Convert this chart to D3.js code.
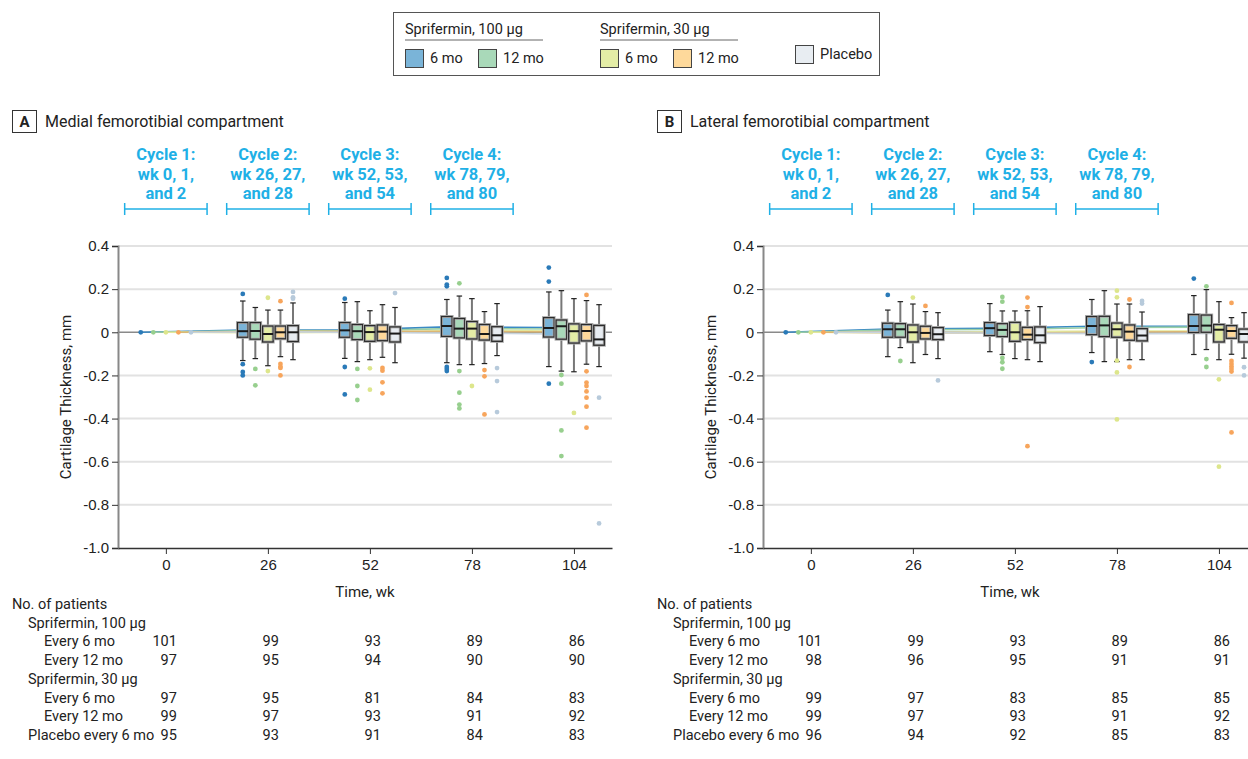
<!DOCTYPE html>
<html>
<head>
<meta charset="utf-8">
<script src="https://cdn.jsdelivr.net/npm/d3@7"></script>
<style>
  body { margin: 0; background: #fff; }
  text { font-family: Roboto, "Noto Sans", sans-serif; fill: #222; }
</style>
</head>
<body>
<div id="chart"></div>
<script>
const weeks = [0, 26, 52, 78, 104];
const boxWeeks = [26, 52, 78, 104];
const groupNames = ["100 µg 6 mo", "100 µg 12 mo", "30 µg 6 mo", "30 µg 12 mo", "Placebo"];
const boxFill = ["#7ab4d8", "#a9d9b9", "#e4eda6", "#fed99b", "#e8edf2"];
const dotColor = ["#2a7ab8", "#97cf8e", "#dde68c", "#f7a55c", "#b7cadb"];
const lineColor = ["#3a8ac4", "#9bd0a6", "#e3e79c", "#dcb774", "#c7d3dd"];
const yTicks = [0.4, 0.2, 0, -0.2, -0.4, -0.6, -0.8, -1.0];

const cycleWeeks = [0, 26, 52, 78];
const cycleLabels = [
  ["Cycle 1:", "wk 0, 1,", "and 2"],
  ["Cycle 2:", "wk 26, 27,", "and 28"],
  ["Cycle 3:", "wk 52, 53,", "and 54"],
  ["Cycle 4:", "wk 78, 79,", "and 80"]
];

// box stats per group, one row per week 26..104: [low whisker, q1, median, q3, high whisker]
const medialBoxes = [
  [[-0.131, -0.023, 0.005, 0.045, 0.145], [-0.121, -0.023, 0.009, 0.045, 0.138], [-0.141, -0.019, 0.029, 0.073, 0.152], [-0.159, -0.022, 0.020, 0.068, 0.187]],
  [[-0.122, -0.032, 0.006, 0.045, 0.115], [-0.136, -0.034, 0.005, 0.036, 0.142], [-0.150, -0.026, 0.017, 0.064, 0.168], [-0.180, -0.032, 0.028, 0.057, 0.193]],
  [[-0.155, -0.045, -0.008, 0.029, 0.103], [-0.127, -0.042, 0.001, 0.031, 0.100], [-0.150, -0.031, 0.017, 0.050, 0.156], [-0.183, -0.050, 0.005, 0.039, 0.156]],
  [[-0.113, -0.030, 0.000, 0.029, 0.103], [-0.116, -0.039, 0.003, 0.034, 0.128], [-0.145, -0.036, -0.008, 0.036, 0.096], [-0.148, -0.040, 0.006, 0.036, 0.147]],
  [[-0.127, -0.043, 0.000, 0.031, 0.136], [-0.141, -0.045, -0.006, 0.025, 0.115], [-0.108, -0.042, -0.014, 0.026, 0.133], [-0.159, -0.060, -0.033, 0.032, 0.128]]
];
const lateralBoxes = [
  [[-0.113, -0.023, 0.014, 0.042, 0.103], [-0.090, -0.015, 0.019, 0.045, 0.133], [-0.094, -0.011, 0.029, 0.073, 0.152], [-0.103, -0.001, 0.029, 0.082, 0.170]],
  [[-0.071, -0.023, 0.014, 0.040, 0.142], [-0.103, -0.020, 0.011, 0.040, 0.099], [-0.136, -0.020, 0.032, 0.074, 0.193], [-0.080, 0.000, 0.031, 0.080, 0.198]],
  [[-0.141, -0.045, 0.000, 0.034, 0.131], [-0.122, -0.042, 0.000, 0.046, 0.099], [-0.136, -0.023, 0.014, 0.043, 0.131], [-0.127, -0.045, 0.012, 0.036, 0.142]],
  [[-0.103, -0.031, -0.003, 0.028, 0.096], [-0.127, -0.034, -0.011, 0.023, 0.100], [-0.127, -0.037, 0.003, 0.034, 0.131], [-0.102, -0.028, 0.006, 0.031, 0.068]],
  [[-0.122, -0.034, -0.009, 0.022, 0.091], [-0.136, -0.048, -0.014, 0.025, 0.119], [-0.127, -0.040, -0.015, 0.017, 0.094], [-0.120, -0.045, -0.008, 0.015, 0.091]]
];

// outliers: [group, week, value]
const medialOutliers = [
  [0, 26, 0.178], [0, 26, -0.148], [0, 26, -0.184], [0, 26, -0.2],
  [0, 52, 0.156], [0, 52, -0.161], [0, 52, -0.288],
  [0, 78, 0.252], [0, 78, 0.221], [0, 78, 0.213], [0, 78, -0.161], [0, 78, -0.17], [0, 78, -0.18],
  [0, 104, 0.3], [0, 104, 0.235], [0, 104, -0.238],
  [1, 26, -0.17], [1, 26, -0.246],
  [1, 52, -0.17], [1, 52, -0.249], [1, 52, -0.314],
  [1, 78, 0.227], [1, 78, -0.18], [1, 78, -0.28], [1, 78, -0.335], [1, 78, -0.353],
  [1, 104, -0.198], [1, 104, -0.238], [1, 104, -0.455], [1, 104, -0.574],
  [2, 26, 0.16], [2, 26, -0.18],
  [2, 52, -0.167], [2, 52, -0.266],
  [2, 78, -0.249],
  [2, 104, -0.374],
  [3, 26, 0.144], [3, 26, -0.147], [3, 26, -0.16], [3, 26, -0.165], [3, 26, -0.2],
  [3, 52, -0.165], [3, 52, -0.178], [3, 52, -0.232], [3, 52, -0.283],
  [3, 78, -0.175], [3, 78, -0.204], [3, 78, -0.381],
  [3, 104, 0.173], [3, 104, -0.181], [3, 104, -0.233], [3, 104, -0.249], [3, 104, -0.274], [3, 104, -0.303], [3, 104, -0.345], [3, 104, -0.442],
  [4, 26, 0.187], [4, 26, 0.162], [4, 26, 0.156],
  [4, 52, 0.182],
  [4, 78, -0.166], [4, 78, -0.226], [4, 78, -0.37],
  [4, 104, -0.303], [4, 104, -0.886]
];
const lateralOutliers = [
  [0, 26, 0.173], [0, 78, -0.138], [0, 104, 0.249],
  [1, 26, -0.133],
  [1, 52, 0.164], [1, 52, 0.142], [1, 52, -0.119], [1, 52, -0.139], [1, 52, -0.169],
  [1, 104, 0.213], [1, 104, -0.124], [1, 104, -0.161],
  [2, 26, 0.161],
  [2, 78, 0.193], [2, 78, 0.162], [2, 78, -0.131], [2, 78, -0.186], [2, 78, -0.404],
  [2, 104, -0.218], [2, 104, -0.623],
  [3, 26, 0.122],
  [3, 52, 0.161], [3, 52, 0.117], [3, 52, -0.528],
  [3, 78, 0.152], [3, 78, -0.161],
  [3, 104, 0.136], [3, 104, -0.133], [3, 104, -0.147], [3, 104, -0.159], [3, 104, -0.17], [3, 104, -0.182], [3, 104, -0.464],
  [4, 26, -0.223],
  [4, 78, 0.145], [4, 78, 0.133],
  [4, 104, -0.162], [4, 104, -0.2]
];

// mean change per group at weeks 0..104
const medialMeans = [
  [0, 0.010, 0.010, 0.025, 0.022],
  [0, 0.008, 0.007, 0.018, 0.015],
  [0, -0.002, 0.000, 0.010, 0.005],
  [0, 0.004, 0.004, 0.003, 0.002],
  [0, 0.002, -0.002, -0.005, -0.010]
];
const lateralMeans = [
  [0, 0.015, 0.018, 0.028, 0.028],
  [0, 0.012, 0.013, 0.022, 0.024],
  [0, -0.003, 0.003, 0.006, 0.006],
  [0, -0.002, -0.003, 0.001, 0.003],
  [0, -0.002, -0.005, -0.006, -0.005]
];

const tableRows = [
  ["No. of patients", 0], ["Sprifermin, 100 µg", 1], ["Every 6 mo", 2], ["Every 12 mo", 2],
  ["Sprifermin, 30 µg", 1], ["Every 6 mo", 2], ["Every 12 mo", 2], ["Placebo every 6 mo", 1]
];
const countRows = [2, 3, 5, 6, 7];
const medialCounts = [[101, 99, 93, 89, 86], [97, 95, 94, 90, 90], [97, 95, 81, 84, 83], [99, 97, 93, 91, 92], [95, 93, 91, 84, 83]];
const lateralCounts = [[101, 99, 93, 89, 86], [98, 96, 95, 91, 91], [99, 97, 83, 85, 85], [99, 97, 93, 91, 92], [96, 94, 92, 85, 83]];

const svg = d3.select("#chart").append("svg")
  .attr("width", 1248)
  .attr("height", 759);

const x = d3.scaleLinear().domain([-12.2, 113.7]).range([118, 612]);
const y = d3.scaleLinear().domain([-1.0, 0.4]).range([548, 246]);
const offsets = [-6.4, -3.2, 0, 3.2, 6.4];
const boxHalf = 1.35; // weeks
const capHalf = 0.7;
const fs = 14.5;

// legend
const legend = svg.append("g");
legend.append("rect")
  .attr("x", 393.5).attr("y", 12.5).attr("width", 486).attr("height", 63)
  .attr("fill", "none").attr("stroke", "#555");
[["Sprifermin, 100 µg", 405], ["Sprifermin, 30 µg", 600]].forEach(([t, lx]) => {
  legend.append("text").attr("x", lx).attr("y", 34).attr("font-size", fs).text(t);
  legend.append("line").attr("x1", lx).attr("x2", lx + 138).attr("y1", 40).attr("y2", 40)
    .attr("stroke", "#666").attr("stroke-width", 1);
});
const legendItems = [[0, 405, "6 mo", 49], [1, 478, "12 mo", 49], [2, 600, "6 mo", 49], [3, 673, "12 mo", 49], [4, 795, "Placebo", 45]];
legendItems.forEach(([gi, lx, t, ly]) => {
  legend.append("rect").attr("x", lx + 0.5).attr("y", ly + 0.5).attr("width", 18).attr("height", 18)
    .attr("fill", boxFill[gi]).attr("stroke", "#444");
  legend.append("text").attr("x", lx + 25).attr("y", ly + 14).attr("font-size", fs).text(t);
});

function drawPanel(dx, letter, title, boxes, outliers, means, counts) {
  const g = svg.append("g").attr("transform", `translate(${dx},0)`);

  // title
  g.append("rect").attr("x", 12.5).attr("y", 110.5).attr("width", 24).attr("height", 22)
    .attr("fill", "none").attr("stroke", "#333");
  g.append("text").attr("x", 24.5).attr("y", 127).attr("text-anchor", "middle")
    .attr("font-size", 15).attr("font-weight", "bold").text(letter);
  g.append("text").attr("x", 45).attr("y", 127).attr("font-size", 16).text(title);

  // cycle annotations
  cycleWeeks.forEach((w, i) => {
    const cx = x(w);
    cycleLabels[i].forEach((t, j) => {
      g.append("text").attr("x", cx).attr("y", 160 + j * 19.5)
        .attr("text-anchor", "middle").attr("font-size", 16.5).attr("font-weight", "bold")
        .style("fill", "#1fb0e6").text(t);
    });
    const x0 = x(w - 10.5), x1 = x(w + 10.5);
    g.append("line").attr("x1", x0).attr("x2", x1).attr("y1", 209).attr("y2", 209)
      .attr("stroke", "#1fb0e6").attr("stroke-width", 1.5);
    [x0, x1].forEach(px => g.append("line").attr("x1", px).attr("x2", px).attr("y1", 203).attr("y2", 215)
      .attr("stroke", "#1fb0e6").attr("stroke-width", 1.5));
  });

  // grid
  g.append("g").selectAll("line").data(yTicks.filter(v => v !== 0 && v !== -1.0)).join("line")
    .attr("x1", 118).attr("x2", 612).attr("y1", d => y(d)).attr("y2", d => y(d))
    .attr("stroke", "#e2e2e2").attr("stroke-width", 2);
  g.append("line").attr("x1", 118).attr("x2", 612).attr("y1", y(0)).attr("y2", y(0))
    .attr("stroke", "#8a8a8a").attr("stroke-width", 1.5);

  // y axis
  const yAxis = g.append("g").attr("transform", "translate(118,0)")
    .call(d3.axisLeft(y).tickValues(yTicks).tickSize(6).tickPadding(3)
      .tickFormat(d => d === 0 ? "0" : d3.format(".1f")(d).replace("−", "-")));
  yAxis.select(".domain").attr("stroke", "#888").attr("stroke-width", 2);
  yAxis.selectAll(".tick line").attr("stroke", "#333");
  yAxis.selectAll("text").attr("font-size", 15).style("fill", "#222")
    .style("font-family", "inherit");

  // x axis
  const xAxis = g.append("g").attr("transform", `translate(0,${y(-1.0)})`)
    .call(d3.axisBottom(x).tickValues(weeks).tickSize(6).tickPadding(5).tickSizeOuter(0));
  xAxis.select(".domain").attr("stroke", "#333").attr("stroke-width", 1.5);
  xAxis.selectAll(".tick line").attr("stroke", "#333");
  xAxis.selectAll("text").attr("font-size", 15).style("fill", "#222")
    .style("font-family", "inherit");

  g.append("text").attr("transform", `translate(71,397) rotate(-90)`)
    .attr("text-anchor", "middle").attr("font-size", 15).text("Cartilage Thickness, mm");
  g.append("text").attr("x", 365).attr("y", 597).attr("text-anchor", "middle")
    .attr("font-size", 15).text("Time, wk");

  // mean lines
  const line = d3.line().x(d => x(d[0])).y(d => y(d[1]));
  means.forEach((m, gi) => {
    g.append("path")
      .datum(weeks.map((w, i) => [w + offsets[gi], m[i]]))
      .attr("d", line).attr("fill", "none")
      .attr("stroke", lineColor[gi]).attr("stroke-width", 1.6);
  });

  // baseline dots
  g.append("g").selectAll("circle").data(groupNames).join("circle")
    .attr("cx", (d, i) => x(offsets[i])).attr("cy", y(0)).attr("r", 2.4)
    .attr("fill", (d, i) => dotColor[i]);

  // boxes
  boxes.forEach((rows, gi) => {
    rows.forEach((b, wi) => {
      const c = boxWeeks[wi] + offsets[gi];
      const [lo, q1, med, q3, hi] = b;
      const bg = g.append("g");
      bg.append("line").attr("x1", x(c)).attr("x2", x(c)).attr("y1", y(hi)).attr("y2", y(lo))
        .attr("stroke", "#777").attr("stroke-width", 2);
      [lo, hi].forEach(v => bg.append("line")
        .attr("x1", x(c - capHalf)).attr("x2", x(c + capHalf)).attr("y1", y(v)).attr("y2", y(v))
        .attr("stroke", "#222").attr("stroke-width", 1.2));
      bg.append("rect")
        .attr("x", x(c - boxHalf)).attr("width", x(c + boxHalf) - x(c - boxHalf))
        .attr("y", y(q3)).attr("height", y(q1) - y(q3))
        .attr("fill", boxFill[gi]).attr("stroke", "#aaa").attr("stroke-width", 3);
      bg.append("rect")
        .attr("x", x(c - boxHalf)).attr("width", x(c + boxHalf) - x(c - boxHalf))
        .attr("y", y(q3)).attr("height", y(q1) - y(q3))
        .attr("fill", "none").attr("stroke", "#2a2a2a").attr("stroke-width", 1.2);
      bg.append("line")
        .attr("x1", x(c - boxHalf)).attr("x2", x(c + boxHalf)).attr("y1", y(med)).attr("y2", y(med))
        .attr("stroke", "#1a1a1a").attr("stroke-width", 2);
    });
  });

  // outliers
  g.append("g").selectAll("circle").data(outliers).join("circle")
    .attr("cx", d => x(d[1] + offsets[d[0]])).attr("cy", d => y(d[2])).attr("r", 2.4)
    .attr("fill", d => dotColor[d[0]]);

  // patient table
  tableRows.forEach(([t, lvl], i) => {
    g.append("text").attr("x", 12 + lvl * 16).attr("y", 609 + i * 18.7)
      .attr("font-size", fs).text(t);
  });
  counts.forEach((row, ri) => {
    row.forEach((n, wi) => {
      g.append("text").attr("x", x(weeks[wi]) + 11).attr("y", 609 + countRows[ri] * 18.7)
        .attr("text-anchor", "end").attr("font-size", fs).text(n);
    });
  });
}

drawPanel(0, "A", "Medial femorotibial compartment", medialBoxes, medialOutliers, medialMeans, medialCounts);
drawPanel(645, "B", "Lateral femorotibial compartment", lateralBoxes, lateralOutliers, lateralMeans, lateralCounts);
</script>
</body>
</html>
